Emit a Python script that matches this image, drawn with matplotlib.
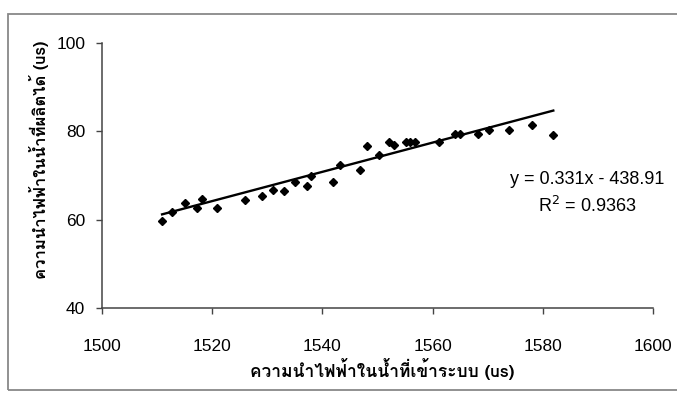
import numpy as np
import matplotlib
matplotlib.use("Agg")
import matplotlib.pyplot as plt
from matplotlib import font_manager
from matplotlib.patches import Rectangle

# conductivity of feed water (x) vs produced water (y)
feed_us = [1510.9, 1512.7, 1515.0, 1517.3, 1518.1, 1520.9, 1525.9, 1529.0,
           1531.0, 1533.0, 1535.1, 1537.2, 1538.0, 1542.0, 1543.2, 1546.9,
           1548.1, 1550.2, 1552.0, 1552.9, 1555.1, 1555.9, 1556.8, 1561.1,
           1564.1, 1565.0, 1568.2, 1570.2, 1573.9, 1578.0, 1581.9]
product_us = [59.7, 61.7, 63.7, 62.6, 64.6, 62.7, 64.5, 65.4,
              66.7, 66.6, 68.6, 67.7, 69.8, 68.6, 72.4, 71.3,
              76.6, 74.7, 77.5, 76.8, 77.5, 77.5, 77.5, 77.5,
              79.4, 79.3, 79.3, 80.2, 80.2, 81.5, 79.1]

# trendline as reported on the chart
slope = 0.331
intercept = -438.91
r_squared = 0.9363

x_ticks = [1500, 1520, 1540, 1560, 1580, 1600]
y_ticks = [40, 60, 80, 100]

x_label = "ความนำไฟฟ้าในน้ำที่เข้าระบบ (us)"
y_label = "ความนำไฟฟ้าในน้ำที่ผลิตได้ (us)"


def find_thai_font():
    #look for any installed font that actually has Thai glyphs
    try:
        from fontTools.ttLib import TTFont
    except ImportError:
        return None
    for f in font_manager.fontManager.ttflist:
        try:
            tt = TTFont(f.fname, fontNumber=0, lazy=True)
            if 0x0E01 in tt.getBestCmap():
                return f.name
        except Exception:
            continue
    return None


thai_font = find_thai_font()
label_family = [thai_font, "DejaVu Sans"] if thai_font else ["DejaVu Sans"]

plt.rcParams["font.family"] = ["Liberation Sans", "DejaVu Sans"]

fig = plt.figure(figsize=(6.77, 3.93), dpi=100)
ax = fig.add_axes([0.1507, 0.2163, 0.8139, 0.6743])

ax.plot(feed_us, product_us, linestyle="none", marker="D", markersize=4.4,
        color="black")

xs = np.array([min(feed_us), max(feed_us)])
ax.plot(xs, slope * xs + intercept, color="black", linewidth=1.7)

ax.set_xlim(1500, 1600)
ax.set_ylim(40, 100)
ax.set_xticks(x_ticks)
ax.set_yticks(y_ticks)
ax.tick_params(direction="out", length=4, width=1, colors="#444444",
               labelcolor="black", labelsize=12.5)
ax.tick_params(axis="x", pad=18)
ax.tick_params(axis="y", pad=8)

for side in ["top", "right"]:
    ax.spines[side].set_visible(False)
for side in ["left", "bottom"]:
    ax.spines[side].set_color("#444444")
    ax.spines[side].set_linewidth(1.1)

ax.set_xlabel(x_label, fontsize=12.5, fontweight="bold", family=label_family)
ax.set_ylabel(y_label, fontsize=12, fontweight="bold", family=label_family)
ax.xaxis.set_label_coords(0.508, -0.188)
ax.yaxis.set_label_coords(-0.097, 0.56)

ax.text(0.88, 0.485, "y = %.3fx - %.2f" % (slope, -intercept),
        transform=ax.transAxes, ha="center", va="center", fontsize=13)
ax.text(0.88, 0.385, "R$^2$ = %.4f" % r_squared,
        transform=ax.transAxes, ha="center", va="center", fontsize=13)

# outer chart frame, runs off the right edge like the scan
fig.patches.append(Rectangle((8 / 677, 3 / 393), 1.0, 376 / 393,
                             transform=fig.transFigure, fill=False,
                             edgecolor="#888888", linewidth=1.3))

fig.savefig("out.png", dpi=100)
